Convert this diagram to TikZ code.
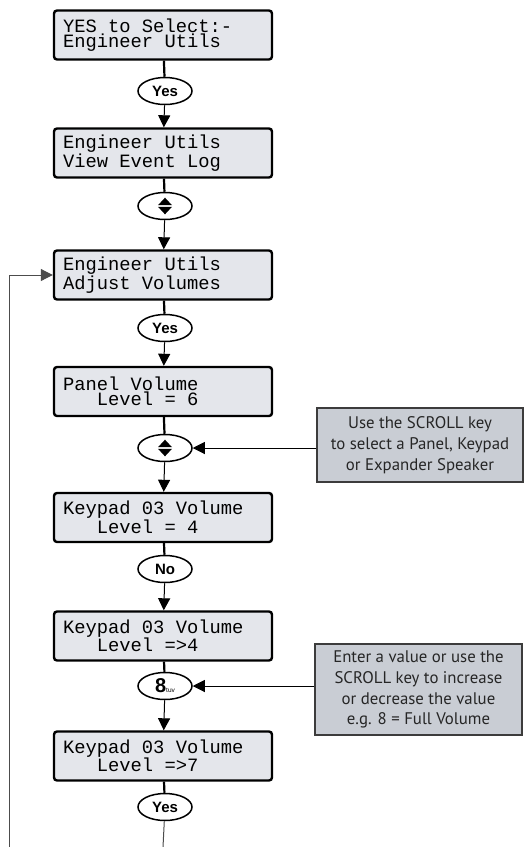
\documentclass[tikz,border=0pt]{standalone}
\usepackage{fontspec}
\setmonofont{Liberation Mono}
\setsansfont{Liberation Sans}
\newfontfamily\notefont{PT Sans}
\usetikzlibrary{shapes.geometric,arrows.meta}
\definecolor{lcdfill}{HTML}{E4E6EB}
\definecolor{notefill}{HTML}{C9CDD4}
\definecolor{noteline}{HTML}{3C3C3C}
\newcommand{\lcdindent}{\hphantom{xxx}}
\newcommand{\lcdspacing}{\spaceskip=0.6em\relax\xspaceskip=0.6em\relax}
\tikzset{
  lcd/.style={draw=black, line width=2.4pt, fill=lcdfill, rounded corners=3pt,
    text width=200pt, inner xsep=9pt, inner ysep=0pt, minimum height=49pt, align=left,
    font=\fontsize{18.8}{15.2}\selectfont\ttfamily,
    execute at begin node=\lcdspacing},
  key/.style={ellipse, draw=black, line width=1.5pt, fill=white, minimum width=54pt,
    minimum height=27pt, inner sep=0pt, font=\fontsize{15}{15}\selectfont\sffamily\bfseries},
  scrollsym/.style={key, path picture={
    \fill[black] (path picture bounding box.center) ++(-7pt,0.8pt) -- ++(14pt,0pt) -- ++(-7pt,7.5pt) -- cycle;
    \fill[black] (path picture bounding box.center) ++(-7pt,-0.8pt) -- ++(14pt,0pt) -- ++(-7pt,-7.5pt) -- cycle;}},
  note/.style={draw=noteline, line width=1.2pt, fill=notefill, align=center, inner sep=2pt,
    font=\notefont\fontsize{16.8}{20.8}\selectfont, text=black!85},
  thickline/.style={line width=2.2pt},
  arr/.style={line width=1pt, -{Triangle[length=12pt,width=12pt]}},
  fbline/.style={line width=1pt, draw=black!70}
}
\begin{document}
\begin{tikzpicture}[x=1pt,y=-1pt]
\useasboundingbox (0,0) rectangle (525,847);
% LCD boxes
\node[lcd] (b1) at (163,35) {YES to Select:-\\Engineer Utils};
\node[lcd] (b2) at (163,153) {Engineer Utils\\View Event Log};
\node[lcd] (b3) at (163,275) {Engineer Utils\\Adjust Volumes};
\node[lcd] (b4) at (163,391.5) {Panel Volume\\\lcdindent Level = 6};
\node[lcd] (b5) at (163,517.5) {Keypad 03 Volume\\\lcdindent Level = 4};
\node[lcd] (b6) at (163,636) {Keypad 03 Volume\\\lcdindent Level =>4};
\node[lcd] (b7) at (163,756) {Keypad 03 Volume\\\lcdindent Level =>7};
% keys
\node[key] (e1) at (165,91) {Yes};
\node[scrollsym] (e2) at (165,206) {};
\node[key] (e3) at (165,328) {Yes};
\node[scrollsym] (e4) at (165,448) {};
\node[key] (e5) at (165,569) {No};
\node[key] (e6) at (165,686) {{\fontsize{20}{20}\selectfont 8}{\fontsize{6.5}{6.5}\selectfont\mdseries tuv}};
\node[key] (e7) at (165,807) {Yes};
% notes
\node[note, minimum width=206pt, minimum height=74pt] (n1) at (420,445)
  {Use the SCROLL key\\to select a Panel, Keypad\\or Expander Speaker};
\node[note, minimum width=207pt, minimum height=91pt] (n2) at (418.5,689.5)
  {Enter a value or use the\\SCROLL key to increase\\or decrease the value\\e.g. 8 = Full Volume};
% chain connectors
\draw[thickline] (b1) -- (e1);
\draw[arr] (e1) -- (b2);
\draw[thickline] (b2) -- (e2);
\draw[arr] (e2) -- (b3);
\draw[thickline] (b3) -- (e3);
\draw[arr] (e3) -- (b4);
\draw[thickline] (b4) -- (e4);
\draw[arr] (e4) -- (b5);
\draw[thickline] (b5) -- (e5);
\draw[arr] (e5) -- (b6);
\draw[thickline] (b6) -- (e6);
\draw[arr] (e6) -- (b7);
\draw[thickline] (b7) -- (e7);
\coordinate (endb) at (163,847);
\draw[line width=1pt, draw=black!70] (e7) -- (endb);
% note arrows
\draw[arr] (n1.west |- e4) -- (e4.east);
\draw[arr] (n2.west |- e6) -- (e6.east);
% feedback
\coordinate (fb) at (9,847);
\draw[fbline, -{Triangle[length=12pt,width=12pt]}] (fb) |- (b3.west);
\end{tikzpicture}
\end{document}
